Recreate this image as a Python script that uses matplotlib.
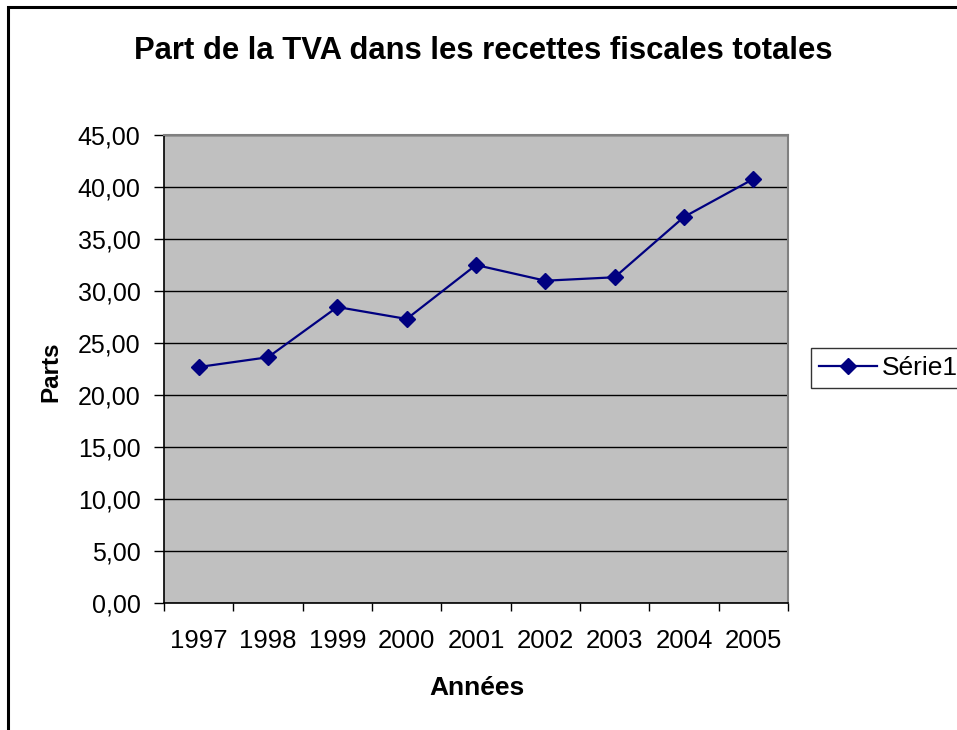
import matplotlib
matplotlib.use("Agg")
import matplotlib.pyplot as plt
from matplotlib.patches import Rectangle
from matplotlib.ticker import FixedLocator, FuncFormatter

years = ["1997", "1998", "1999", "2000", "2001", "2002", "2003", "2004", "2005"]
parts = [22.69, 23.63, 28.46, 27.31, 32.50, 30.99, 31.32, 37.12, 40.77]
yticks = [0, 5, 10, 15, 20, 25, 30, 35, 40, 45]

plt.rcParams['font.family'] = ['Liberation Sans', 'DejaVu Sans']

fig = plt.figure(figsize=(9.57, 7.3), dpi=100)
fig.patch.set_facecolor('white')

# outer chart border (cut at right/bottom like reference)
fig.patches.append(Rectangle((8/957, -0.1), 1.2, (730-7)/730 + 0.1, transform=fig.transFigure,
                             fill=False, edgecolor='black', linewidth=2.2))

ax = fig.add_axes([164/957, (730-603)/730, (788-164)/957, (603-135)/730])
ax.set_facecolor('#C0C0C0')

x = list(range(len(years)))
ax.plot(x, parts, color='#000080', linewidth=1.6, marker='D', markersize=8.5,
        markerfacecolor='#000080', markeredgecolor='#000080', label='Série1', zorder=3)

ax.set_xlim(-0.5, len(years) - 0.5)
ax.set_ylim(0, 45)
ax.yaxis.set_major_locator(FixedLocator(yticks))
ax.yaxis.set_major_formatter(FuncFormatter(lambda v, p: f"{v:.2f}".replace('.', ',')))
ax.grid(axis='y', color='black', linewidth=1.0)
ax.set_axisbelow(True)

ax.set_xticks(x)
ax.set_xticklabels(years)
ax.set_xticks([i - 0.5 for i in range(len(years) + 1)], minor=True)
ax.tick_params(axis='x', which='major', length=0, labelsize=18.5, pad=18.5)
ax.tick_params(axis='x', which='minor', length=6, width=1, direction='out', color='black')
ax.tick_params(axis='y', which='major', length=7, width=1, direction='out', labelsize=18, pad=10)

for s in ['left', 'bottom']:
    ax.spines[s].set_color('black')
    ax.spines[s].set_linewidth(1.2)
for s in ['top', 'right']:
    ax.spines[s].set_color('#808080')
    ax.spines[s].set_linewidth(1.5)

fig.text(483/957, 1 - 51/730, "Part de la TVA dans les recettes fiscales totales",
         ha='center', va='center', fontsize=22.3, fontweight='bold')
fig.text(477/957, 1 - 688/730, "Années", ha='center', va='center', fontsize=19, fontweight='bold')
fig.text(51/957, 1 - 372/730, "Parts", ha='center', va='center', fontsize=17.5,
         fontweight='bold', rotation=90)

leg = fig.legend(loc='upper left', bbox_to_anchor=(811/957, 1 - 348/730), frameon=True,
                 fontsize=19, handlelength=2.2, borderpad=0.3, handletextpad=0.2,
                 fancybox=False, borderaxespad=0)
leg.get_frame().set_edgecolor('black')
leg.get_frame().set_linewidth(1.0)

fig.savefig("out.png", dpi=100)
